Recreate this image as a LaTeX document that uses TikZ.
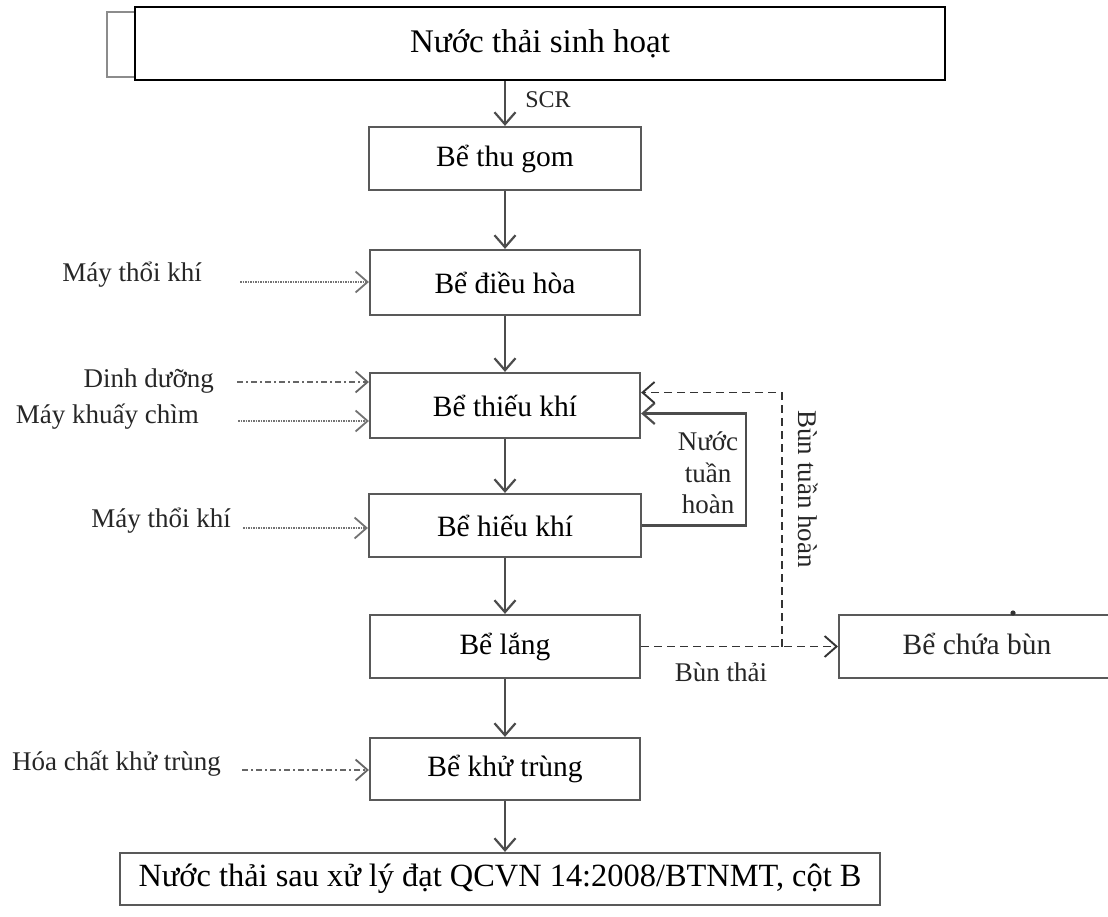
\documentclass[tikz,border=0pt]{standalone}
\usepackage{fontspec}
\setmainfont{Liberation Serif}
\usetikzlibrary{arrows.meta}
\tikzset{>={Straight Barb[length=12pt,width=21pt]}}

\begin{document}
\begin{tikzpicture}[x=1pt,y=-1pt,line width=2.2pt,
	tank/.style={draw=black!65,minimum width=272pt,minimum height=63pt,inner sep=0pt,font=\fontsize{29.5}{34}\selectfont},
	lbl/.style={inner sep=0pt,text=black!85,font=\fontsize{27}{31.5}\selectfont},
	flow/.style={->,draw=black!70},
	dotflow/.style={->,draw=black!55,line width=1.8pt,dash pattern=on 1.5pt off 1pt},
	dashdotflow/.style={->,draw=black!60,line width=1.8pt,dash pattern=on 6pt off 3pt on 2pt off 3pt},
	sludge/.style={->,draw=black!80,line width=1.9pt,dash pattern=on 8pt off 5pt}]
	\useasboundingbox (0,0) rectangle (1108,917);
	\node[draw,line width=2.2pt,minimum width=810pt,minimum height=73pt,font=\fontsize{33}{38}\selectfont] (nuocthai) at (540,43.5) {Nước thải sinh hoạt};
	\draw[black!45,line width=1.8pt] ([shift={(0,6)}]nuocthai.north west) -- ++(-27,0) -- ++(0,65) -- ++(27,0);
	\node[tank] (thugom) at (505,158.5) {Bể thu gom};
	\node[tank,minimum width=270pt,minimum height=65pt] (dieuhoa) at (505,282.5) {Bể điều hòa};
	\node[tank,minimum width=270pt,minimum height=65pt] (thieukhi) at (505,405.5) {Bể thiếu khí};
	\node[tank] (hieukhi) at (505,525.5) {Bể hiếu khí};
	\node[tank,minimum width=270pt] (lang) at (505,646.5) {Bể lắng};
	\node[tank,minimum width=270pt,minimum height=62pt] (khutrung) at (505,769) {Bể khử trùng};
	\node[tank,minimum width=760pt,minimum height=52pt,font=\fontsize{32.4}{37}\selectfont] (daura) at (500,879) {Nước thải sau xử lý đạt QCVN 14:2008/BTNMT, cột B};
	\node[tank,minimum width=290pt,anchor=west] (chuabun) at (838,646.5) {};
	\node[lbl,font=\fontsize{29.5}{34}\selectfont] (chuabuntxt) at (977,644) {Bể chứa bùn};
	\fill[black!80] (1013,613) circle (2.6pt);
	\node[lbl,font=\fontsize{24}{28}\selectfont] (scr) at (548,100) {SCR};
	\node[lbl,anchor=east] (maythoi1) at (203,275) {Máy thổi khí};
	\node[lbl,anchor=east] (dinhduong) at (215,381) {Dinh dưỡng};
	\node[lbl,anchor=east] (khuay) at (200,417) {Máy khuấy chìm};
	\node[lbl,anchor=east] (maythoi2) at (232,521) {Máy thổi khí};
	\node[lbl,anchor=east] (hoachat) at (222,764) {Hóa chất khử trùng};
	\node[lbl,align=center] (tuanhoan) at (708,473) {Nước\\tuần\\hoàn};
	\node[lbl] (bunthai) at (721,672) {Bùn thải};
	\node[lbl,rotate=-90] (buntuanhoan) at (808,489) {Bùn tuần hoàn};
	\draw[flow] (nuocthai.south -| thugom) -- (thugom);
	\draw[flow] (thugom) -- (dieuhoa);
	\draw[flow] (dieuhoa) -- (thieukhi);
	\draw[flow] (thieukhi) -- (hieukhi);
	\draw[flow] (hieukhi) -- (lang);
	\draw[flow] (lang) -- (khutrung);
	\draw[flow] (khutrung.south) -- (khutrung.south |- daura.north);
	\draw[dotflow] ([xshift=37pt,yshift=-7pt]maythoi1.east) -- ([yshift=-7pt]maythoi1.east -| dieuhoa.west);
	\draw[dashdotflow] ([xshift=22pt,yshift=-1pt]dinhduong.east) -- ([yshift=-1pt]dinhduong.east -| thieukhi.west);
	\draw[dotflow] ([xshift=38pt,yshift=-4pt]khuay.east) -- ([yshift=-4pt]khuay.east -| thieukhi.west);
	\draw[dotflow] ([xshift=11pt,yshift=-7pt]maythoi2.east) -- ([yshift=-7pt]maythoi2.east -| hieukhi.west);
	\draw[dashdotflow] ([xshift=20pt,yshift=-6pt]hoachat.east) -- ([yshift=-6pt]hoachat.east -| khutrung.west);
	\draw[flow] (hieukhi.east) -- ++(104,0) |- ([shift={(0,8)}]thieukhi.east);
	\coordinate (nhanh) at ([xshift=141pt]lang.east);
	\draw[sludge] (lang.east) -- (chuabun.west);
	\draw[sludge] (nhanh) |- ([shift={(0,-13)}]thieukhi.east);
\end{tikzpicture}
\end{document}
